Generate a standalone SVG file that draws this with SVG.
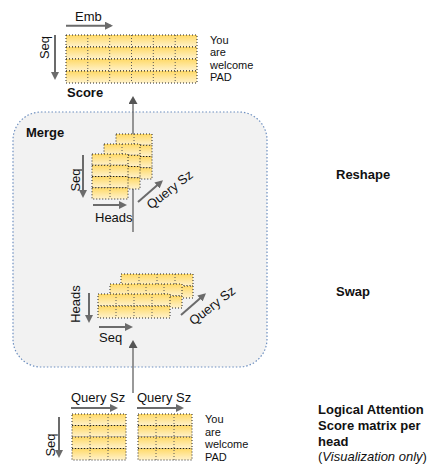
<svg xmlns="http://www.w3.org/2000/svg" width="434" height="465" viewBox="0 0 434 465">
  <style>
    .t { font-family: "Liberation Sans", Arial, sans-serif; font-size: 13px; fill: #111; }
    .b { font-weight: bold; }
    .s { font-size: 11px; }
    .row { fill: url(#cellFill); stroke: #222; stroke-width: 1; stroke-dasharray: 1 2; }
    .col { stroke: #555; stroke-width: 1; stroke-dasharray: 1 2; }
    .axis { stroke: #6b6b6b; stroke-width: 2; fill: none; marker-end: url(#axisHead); }
    .flow { stroke: #555; stroke-width: 1.2; fill: none; marker-end: url(#flowHead); }
  </style>
  <defs>
    <linearGradient id="cellFill" x1="0" y1="0" x2="0" y2="1">
      <stop offset="0" stop-color="#ffd966"/>
      <stop offset="1" stop-color="#fff2cc"/>
    </linearGradient>
    <marker id="axisHead" markerUnits="userSpaceOnUse" markerWidth="8" markerHeight="8" viewBox="0 0 8 8" refX="6" refY="4" orient="auto">
      <path d="M0,0 L8,4 L0,8 Z" fill="#6b6b6b"/>
    </marker>
    <marker id="flowHead" markerUnits="userSpaceOnUse" markerWidth="8" markerHeight="9" viewBox="0 0 8 9" refX="6" refY="4.5" orient="auto">
      <path d="M0,0 L8,4.5 L0,9 Z" fill="#555"/>
    </marker>
  </defs>

  <!-- merge container -->
  <g id="merge">
    <rect x="13" y="112" width="254" height="255" rx="28" ry="28" fill="#f2f2f2" stroke="#6c8ebf" stroke-width="1.2" stroke-dasharray="1.5 2"/>
    <text class="t b" x="26" y="137">Merge</text>
  </g>

  <!-- flow between stages -->
  <g id="connectors">
    <line class="flow" x1="133" y1="393" x2="133" y2="342"/>
    <line class="flow" x1="133" y1="232" x2="133" y2="98"/>
  </g>

  <!-- output score matrix -->
  <g id="score">
    <text class="t" x="75" y="21">Emb</text>
    <line class="axis" x1="66" y1="25.7" x2="111" y2="25.7"/>
    <text class="t" transform="translate(44,47.5) rotate(-90)" x="0" y="4.5" text-anchor="middle">Seq</text>
    <line class="axis" x1="55" y1="35" x2="55" y2="78"/>
    <rect class="row" x="66" y="35" width="131" height="12"/>
    <rect class="row" x="66" y="47" width="131" height="12"/>
    <rect class="row" x="66" y="59" width="131" height="12"/>
    <rect class="row" x="66" y="71" width="131" height="12"/>
    <path class="col" d="M87.8,35V83 M109.7,35V83 M131.5,35V83 M153.3,35V83 M175.2,35V83"/>
    <text class="t s" x="210" y="43.5">You</text>
    <text class="t s" x="210" y="56">are</text>
    <text class="t s" x="210" y="68.5">welcome</text>
    <text class="t s" x="210" y="81">PAD</text>
    <text class="t b" x="67" y="96.5">Score</text>
  </g>

  <!-- reshape stage: heads stacked -->
  <g id="reshape">
    <g>
      <rect class="row" x="116" y="134" width="36" height="11.25"/>
      <rect class="row" x="116" y="145.25" width="36" height="11.25"/>
      <rect class="row" x="116" y="156.5" width="36" height="11.25"/>
      <rect class="row" x="116" y="167.75" width="36" height="11.25"/>
      <path class="col" d="M134,134V179"/>
    </g>
    <g>
      <rect class="row" x="104" y="144" width="36" height="11.25"/>
      <rect class="row" x="104" y="155.25" width="36" height="11.25"/>
      <rect class="row" x="104" y="166.5" width="36" height="11.25"/>
      <rect class="row" x="104" y="177.75" width="36" height="11.25"/>
      <path class="col" d="M122,144V189"/>
    </g>
    <g>
      <rect class="row" x="92" y="154" width="36" height="11.25"/>
      <rect class="row" x="92" y="165.25" width="36" height="11.25"/>
      <rect class="row" x="92" y="176.5" width="36" height="11.25"/>
      <rect class="row" x="92" y="187.75" width="36" height="11.25"/>
      <path class="col" d="M110,154V199"/>
    </g>
    <text class="t" transform="translate(75,180) rotate(-90)" x="0" y="4.5" text-anchor="middle">Seq</text>
    <line class="axis" x1="83" y1="155" x2="83" y2="196"/>
    <line class="axis" x1="93" y1="205" x2="125" y2="205"/>
    <text class="t" x="95" y="222">Heads</text>
    <line class="axis" x1="138" y1="202" x2="161.5" y2="181.5"/>
    <text class="t" transform="translate(170,190) rotate(-38)" x="0" y="4" text-anchor="middle">Query Sz</text>
    <text class="t b" x="336" y="179">Reshape</text>
  </g>

  <!-- swap stage -->
  <g id="swap">
    <g>
      <rect class="row" x="121" y="274" width="72" height="12"/>
      <rect class="row" x="121" y="286" width="72" height="12"/>
      <path class="col" d="M139,274V298 M157,274V298 M175,274V298"/>
    </g>
    <g>
      <rect class="row" x="110" y="284" width="72" height="12"/>
      <rect class="row" x="110" y="296" width="72" height="12"/>
      <path class="col" d="M128,284V308 M146,284V308 M164,284V308"/>
    </g>
    <g>
      <rect class="row" x="98" y="294" width="72" height="12"/>
      <rect class="row" x="98" y="306" width="72" height="12"/>
      <path class="col" d="M116,294V318 M134,294V318 M152,294V318"/>
    </g>
    <text class="t" transform="translate(75.5,304) rotate(-90)" x="0" y="4.5" text-anchor="middle">Heads</text>
    <line class="axis" x1="89" y1="293" x2="89" y2="321"/>
    <line class="axis" x1="99" y1="327" x2="131" y2="327"/>
    <text class="t" x="99" y="342">Seq</text>
    <line class="axis" x1="181" y1="315" x2="204.5" y2="294.5"/>
    <text class="t" transform="translate(212.5,306) rotate(-38)" x="0" y="4" text-anchor="middle">Query Sz</text>
    <text class="t b" x="336" y="295.5">Swap</text>
  </g>

  <!-- logical attention score matrices -->
  <g id="logical">
    <text class="t" x="71" y="401.5">Query Sz</text>
    <line class="axis" x1="71" y1="408" x2="116" y2="408"/>
    <text class="t" x="137" y="401.5">Query Sz</text>
    <line class="axis" x1="137" y1="408" x2="182" y2="408"/>
    <text class="t" transform="translate(50,445) rotate(-90)" x="0" y="4.5" text-anchor="middle">Seq</text>
    <line class="axis" x1="59" y1="417" x2="59" y2="456"/>
    <g>
      <rect class="row" x="72" y="414" width="54" height="11.5"/>
      <rect class="row" x="72" y="425.5" width="54" height="11.5"/>
      <rect class="row" x="72" y="437" width="54" height="11.5"/>
      <rect class="row" x="72" y="448.5" width="54" height="11.5"/>
      <path class="col" d="M90,414V460 M108,414V460"/>
    </g>
    <g>
      <rect class="row" x="138" y="414" width="54" height="11.5"/>
      <rect class="row" x="138" y="425.5" width="54" height="11.5"/>
      <rect class="row" x="138" y="437" width="54" height="11.5"/>
      <rect class="row" x="138" y="448.5" width="54" height="11.5"/>
      <path class="col" d="M156,414V460 M174,414V460"/>
    </g>
    <text class="t s" x="205" y="423">You</text>
    <text class="t s" x="205" y="435.5">are</text>
    <text class="t s" x="205" y="448">welcome</text>
    <text class="t s" x="205" y="460.5">PAD</text>
    <text class="t b" x="318" y="414">Logical Attention</text>
    <text class="t b" x="318" y="430">Score matrix per</text>
    <text class="t b" x="318" y="445.5">head</text>
    <text class="t" x="318" y="461">(<tspan font-style="italic">Visualization only</tspan>)</text>
  </g>
</svg>
